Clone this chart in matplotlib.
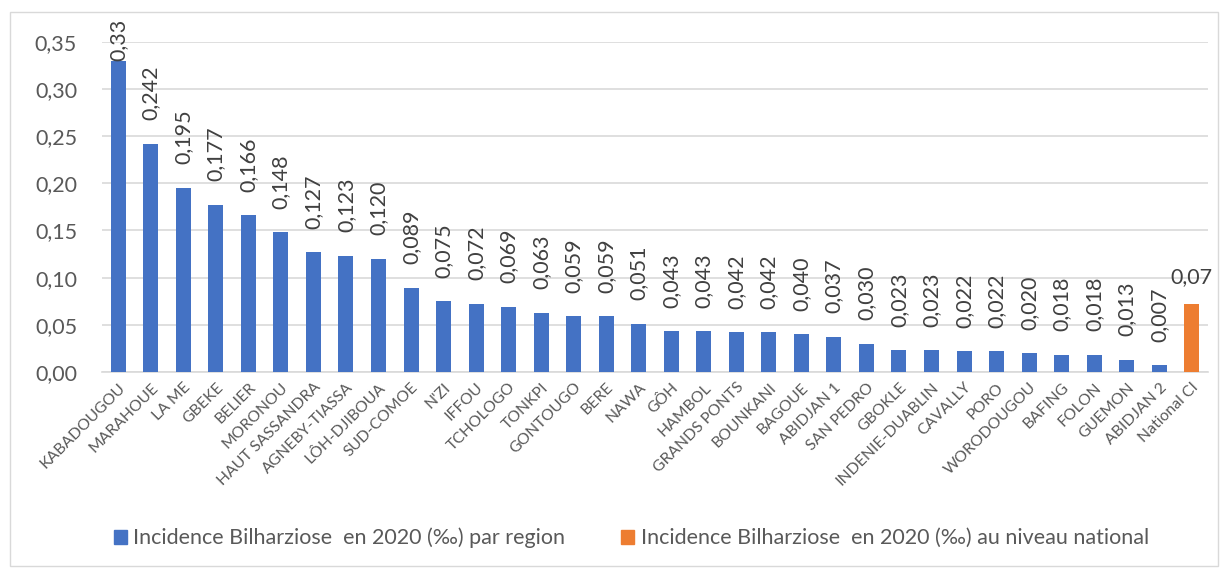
import matplotlib
matplotlib.use("Agg")
import matplotlib.pyplot as plt
from matplotlib.patches import Rectangle, Patch
from matplotlib.ticker import FixedLocator, FuncFormatter

plt.rcParams['font.family'] = ['Lato', 'DejaVu Sans']

regions = ["KABADOUGOU", "MARAHOUE", "LA ME", "GBEKE", "BELIER", "MORONOU",
           "HAUT SASSANDRA", "AGNEBY-TIASSA", "LÔH-DJIBOUA", "SUD-COMOE", "N'ZI",
           "IFFOU", "TCHOLOGO", "TONKPI", "GONTOUGO", "BERE", "NAWA", "GÔH",
           "HAMBOL", "GRANDS PONTS", "BOUNKANI", "BAGOUE", "ABIDJAN 1",
           "SAN PEDRO", "GBOKLE", "INDENIE-DUABLIN", "CAVALLY", "PORO",
           "WORODOUGOU", "BAFING", "FOLON", "GUEMON", "ABIDJAN 2"]
values = [0.33, 0.242, 0.195, 0.177, 0.166, 0.148, 0.127, 0.123, 0.120, 0.089,
          0.075, 0.072, 0.069, 0.063, 0.059, 0.059, 0.051, 0.043, 0.043, 0.042,
          0.042, 0.040, 0.037, 0.030, 0.023, 0.023, 0.022, 0.022, 0.020, 0.018,
          0.018, 0.013, 0.007]
value_labels = ["0,33", "0,242", "0,195", "0,177", "0,166", "0,148", "0,127",
                "0,123", "0,120", "0,089", "0,075", "0,072", "0,069", "0,063",
                "0,059", "0,059", "0,051", "0,043", "0,043", "0,042", "0,042",
                "0,040", "0,037", "0,030", "0,023", "0,023", "0,022", "0,022",
                "0,020", "0,018", "0,018", "0,013", "0,007"]
national_name = "National CI"
national_value = 0.072
national_label = "0,07"
legend_labels = ["Incidence Bilharziose  en 2020 (‰) par region",
                 "Incidence Bilharziose  en 2020 (‰) au niveau national"]
yticks = [0.0, 0.05, 0.10, 0.15, 0.20, 0.25, 0.30, 0.35]

BLUE = "#4472C4"
ORANGE = "#ED7D31"
TXT = "#595959"

fig = plt.figure(figsize=(12.26, 5.71), dpi=100)
fig.patches.append(Rectangle((10/1226, 5/571), 1208/1226, 554/571,
                             transform=fig.transFigure, fill=False,
                             edgecolor="#D9D9D9", linewidth=1))
ax = fig.add_axes([102/1226, 199/571, 1106/1226, 330.3/571])

n = len(regions)
xs = list(range(n))
ax.bar(xs, values, width=0.46, color=BLUE, zorder=3)
ax.bar([n], [national_value], width=0.46, color=ORANGE, zorder=3)
ax.set_xlim(-0.5, n + 0.5)
ax.set_ylim(0, 0.35)

renderer = fig.canvas.get_renderer()
top_limit = fig.bbox.height - 20  # keep labels inside the chart frame
GAP = 17
for x, v, lab in zip(xs, values, value_labels):
    kw = dict(textcoords="offset points", rotation=90, ha="center",
              va="bottom", fontsize=15.5, color="#404040")
    t = ax.annotate(lab, (x, v), xytext=(0, GAP), **kw)
    bb = t.get_window_extent(renderer)
    if bb.y1 > top_limit:
        shift = (bb.y1 - top_limit) * 72 / fig.dpi
        t.remove()
        ax.annotate(lab, (x, v), xytext=(0, max(GAP - shift, 0)), **kw)
ax.annotate(national_label, (n, national_value), xytext=(0, 12),
            textcoords="offset points", ha="center", va="bottom",
            fontsize=15.5, color="#404040")

ax.yaxis.set_major_locator(FixedLocator(yticks))
ax.yaxis.set_major_formatter(FuncFormatter(lambda v, p: f"{v:.2f}".replace(".", ",")))
ax.set_xticks(xs + [n])
ax.set_xticklabels(regions + [national_name], rotation=45, ha="right",
                   rotation_mode="anchor", fontsize=11.3, color=TXT)
ax.tick_params(axis="y", labelsize=15.5, labelcolor=TXT, length=0, pad=18)
ax.tick_params(axis="x", length=0, pad=6)
ax.grid(axis="y", color="#D9D9D9", linewidth=1.2, zorder=0)
for s in ["top", "right", "left"]:
    ax.spines[s].set_visible(False)
ax.spines["bottom"].set_color("#D9D9D9")
ax.spines["bottom"].set_linewidth(1.2)

handles = [Patch(color=BLUE), Patch(color=ORANGE)]
fig.legend(handles, legend_labels, loc="center", bbox_to_anchor=(0.515, 33/571),
           ncol=2, frameon=False, fontsize=15.5, labelcolor=TXT,
           handlelength=0.6, handleheight=0.6, handletextpad=0.3,
           columnspacing=2.6)

fig.savefig("out.png", dpi=100)
